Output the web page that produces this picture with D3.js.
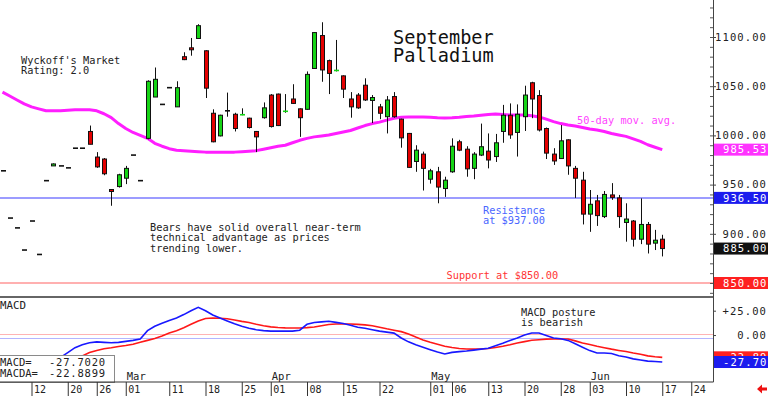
<!DOCTYPE html>
<html>
<head>
<meta charset="utf-8">
<script src="https://cdn.jsdelivr.net/npm/d3@7"></script>
<style>
  body { margin: 0; background: #fff; }
  svg { display: block; font-family: "DejaVu Sans Mono", monospace; }
</style>
</head>
<body>
<svg id="chart" width="768" height="396"></svg>
<script>
// trading day 0 = Feb 12, the first bar on the chart is day -4
const firstDay = -4;

const opens = [
  964, 916, 906, 883.5, 913, 879, 954, 969, 969, 967,
  987, 987, 1004, 978, 976, 945, 948, 956.5, 980, 954,
  997, 1039, 1031.5, 1048.5, 1029, 1080, 1089, 1098.5, 1086, 1022.5,
  999.5, 1025, 1021.5, 1020.5, 1017.5, 1004, 1018, 1041, 1042, 1023.5,
  1037, 1027, 1026.5, 1068, 1101.5, 1076, 1065, 1060.5, 1037, 1041,
  1051, 1035.5, 1029, 1019, 1039.5, 1016.5, 1002, 973.5, 981, 955.5,
  963, 946, 963, 993.5, 986, 966.5, 980, 984, 978.5, 1004,
  1020.5, 1003, 1019, 1053.5, 1040.5, 1007, 981, 976.5, 995.5, 966.5,
  954.5, 920, 933.5, 917.5, 939.5, 936.5, 911.5, 913, 894.5, 909.5,
  890.5, 894.5
];
const highs = [
  964, 916, 906, 883.5, 913, 879, 954, 971.5, 969, 967,
  987, 987, 1010, 983, 977, 945.5, 961, 969, 980, 954,
  1056, 1069, 1031.5, 1048.5, 1055, 1084.5, 1099, 1113, 1086.5, 1026.5,
  1021, 1043.5, 1023, 1027.5, 1018, 1004.5, 1033.5, 1042, 1042.5, 1042,
  1052, 1027.5, 1065, 1105, 1115, 1077, 1097, 1061, 1044, 1043,
  1058, 1041, 1032, 1040, 1044, 1017, 1002.5, 990, 983.5, 966,
  968, 958, 997, 995.5, 989, 983, 1012, 1002, 1001.5, 1031,
  1032.5, 1031.5, 1050.5, 1054.5, 1046, 1008, 987, 1010.5, 996, 969,
  963, 944.5, 939.5, 943.5, 951.5, 939.5, 931, 914, 936, 912,
  904, 899
];
const lows = [
  964, 916, 906, 883.5, 913, 879, 954, 969, 969, 967,
  987, 987, 991, 967, 959.5, 928.5, 947, 950.5, 980, 954,
  996, 1039, 1031.5, 1048.5, 1029, 1076.5, 1081, 1098.5, 1038, 993,
  999, 1019, 1004, 1020.5, 1007, 983, 1017, 1008, 1009.5, 1023,
  1032, 998.5, 1026, 1067.5, 1054.5, 1042, 1065, 1038, 1018, 1027,
  1035, 1012.5, 1016.5, 1002, 1018, 987.5, 967, 963, 944, 951,
  931, 937.5, 962, 984, 958, 955.5, 979, 966.5, 973, 992.5,
  996.5, 978.5, 1004.5, 1017.5, 1004, 976, 970, 976, 960, 936.5,
  909.5, 902, 908, 916, 934.5, 906, 892, 887, 889.5, 880,
  883.5, 877
];
const closes = [
  964, 916, 906, 883.5, 913, 879, 954, 971, 969, 967,
  987, 987, 991, 968, 961, 943, 960, 966.5, 980, 954,
  1055, 1057, 1031.5, 1048.5, 1048.5, 1077, 1087, 1111.5, 1048, 993.5,
  1020.5, 1025, 1007, 1021, 1008, 998.5, 1028, 1009, 1010, 1024.5,
  1032.5, 1018, 1062, 1104.5, 1066.5, 1063, 1066, 1047, 1029, 1028,
  1036, 1038.5, 1022.5, 1036, 1019, 997.5, 967.5, 985, 966.5, 964,
  947.5, 954.5, 989, 985, 966, 981, 988.5, 975, 992.5, 1020.5,
  1000.5, 1021.5, 1041, 1037, 1005.5, 982, 974, 994.5, 969, 956.5,
  920, 930, 918.5, 940, 937, 917.5, 915, 894.5, 909.5, 889.5,
  893.5, 885
];

// 50-day moving average, same days as the bars
const movAvg = [
  1044, 1040, 1036, 1032, 1029, 1027, 1025, 1025, 1025, 1025.5,
  1026, 1026, 1026, 1025, 1022, 1018, 1012, 1007, 1003, 1000,
  997, 992, 989, 986.5, 985, 984.5, 984, 983.5, 983, 983,
  983, 983, 983, 983.5, 984, 984.5, 986, 987.5, 989, 990,
  992.5, 995, 997, 998.5, 999.5, 1000.5, 1002, 1003.5, 1005, 1007.5,
  1010, 1012, 1013.5, 1015.5, 1017.5, 1018.5, 1018.7, 1018.7, 1018.7, 1018.5,
  1018, 1017.7, 1018, 1018.5, 1019.3, 1019.7, 1020.5, 1021.2, 1021.7, 1021.3,
  1020.8, 1020.7, 1020.7, 1020, 1018.8, 1016.5, 1014, 1012, 1010.5, 1009.5,
  1008, 1006.5, 1005.5, 1004, 1002, 1000.5, 999, 996.5, 994, 990.5,
  988, 985.5
];

const macdStart = 4;
const macdLine = [
  -23, -18, -13, -10, -8, -7, -7.5, -8, -7.5, -6.5,
  -5.5, -4, 4.5, 9, 12, 15, 17.5, 21, 25, 28.5,
  25, 20.6, 17.5, 14.5, 11.5, 9, 7, 5.5, 4.5, 4,
  4, 4, 4, 5, 11, 12.8, 13.5, 14.2, 13, 11.8,
  10, 8, 7, 5.5, 4, 3, 2, -3, -7, -10,
  -12.5, -15, -17.5, -19.5, -17.8, -17, -16.4, -15.5, -14.5, -13.5,
  -11, -8.5, -5.5, -3, 0, 2.1, 2.1, -0.5, -3, -3.8,
  -5.5, -9, -12.5, -16, -18.5, -18.5, -19, -21.2, -22.5, -24.5,
  -25.7, -26.8, -27.2, -27.7
];
const signalStart = 6;
const signalLine = [
  -24, -21.5, -18, -15.8, -14, -13, -11.8, -10.8, -9.5, -7.5,
  -5.5, -3.5, -1, 2, 4.5, 7.5, 11, 14.5, 17, 17.5,
  17.3, 16.8, 15.5, 14, 12.8, 11, 9.5, 8.4, 7.8, 7.4,
  7.2, 7.2, 7.6, 8.2, 9.5, 10.8, 11.3, 11.3, 11.3, 11,
  10.4, 9.5, 8, 6.4, 5, 3.5, 1, -2.1, -5, -7.5,
  -9.5, -11.5, -12.8, -13.8, -14.4, -14.5, -14.4, -13.8, -12.8, -11.5,
  -10, -8.2, -6.8, -5.4, -4.8, -4.2, -4.1, -4.1, -4.1, -6,
  -8.2, -9.8, -11.5, -13, -14.5, -15.8, -17, -18.5, -19.8, -21.4,
  -22.3, -22.9
];

const dayTicks = [0, 5, 9, 13, 19, 24, 29, 33, 38, 43, 48, 55, 58, 63, 68, 73, 77, 82, 87, 91];
const dayLabels = ['12', '20', '26', '01', '11', '18', '25', '01', '08', '15', '22',
  '01', '06', '13', '20', '28', '03', '10', '17', '24'];
const monthTicks = [13, 33, 55, 77];
const monthLabels = ['Mar', 'Apr', 'May', 'Jun'];
const priceTicks = [900, 950, 1000, 1050, 1100];
const macdTicks = [0, 25];

const resistance = 936.5;
const support = 850;
const lastPrice = 885;
const lastAvg = 985.53;
const lastMacd = -27.702;
const lastSignal = -22.8899;

// ---- layout ----
const axisX = 713.5;
const macdTop = 297;
const macdBottom = 382;
const green = '#16d416';
const red = '#e40000';
const magenta = '#ff1eff';

const svg = d3.select('#chart');

const x = d3.scaleLinear().domain([0, 91]).range([31.5, 691.25]);
const y = d3.scaleLinear().domain([850, 1100]).range([283, 37]);
const ym = d3.scaleLinear().domain([-27.7, 25]).range([362, 310.7]);

const bars = opens.map((o, i) => ({
  day: firstDay + i, open: o, high: highs[i], low: lows[i], close: closes[i]
}));

// level lines
svg.append('line')
  .attr('x1', 0).attr('x2', axisX)
  .attr('y1', y(resistance)).attr('y2', y(resistance))
  .attr('stroke', '#9c9cff').attr('stroke-width', 2);
svg.append('line')
  .attr('x1', 0).attr('x2', axisX)
  .attr('y1', y(support)).attr('y2', y(support))
  .attr('stroke', '#ffb0b0').attr('stroke-width', 2);

// moving average
svg.append('path')
  .datum(movAvg)
  .attr('fill', 'none')
  .attr('stroke', magenta)
  .attr('stroke-width', 3)
  .attr('stroke-linejoin', 'round')
  .attr('d', d3.line().x((d, i) => x(firstDay + i)).y(d => y(d)));

// candles
const candle = svg.append('g').selectAll('g').data(bars).join('g')
  .attr('transform', d => `translate(${Math.round(x(d.day)) + 0.5},0)`);

candle.filter(d => d.high > d.low).append('line')
  .attr('y1', d => y(d.high)).attr('y2', d => y(d.low))
  .attr('stroke', '#111');

// flat days and doji as short dashes
candle.filter(d => Math.abs(d.close - d.open) <= 1).append('line')
  .attr('x1', -2.5).attr('x2', 2.5)
  .attr('y1', d => y(d.close)).attr('y2', d => y(d.close))
  .attr('stroke-width', 1.6)
  .attr('stroke', d => {
    if (d.high === d.low || d.close === d.open) return '#111';
    return d.close > d.open ? green : red;
  });

candle.filter(d => Math.abs(d.close - d.open) > 1).append('rect')
  .attr('x', -2).attr('width', 4)
  .attr('y', d => y(Math.max(d.open, d.close)))
  .attr('height', d => Math.max(1.5, Math.abs(y(d.open) - y(d.close))))
  .attr('fill', d => d.close > d.open ? green : red)
  .attr('stroke', '#111');

// annotations
function note(lines, px, py, step, size, color, spacing) {
  const t = svg.append('text')
    .attr('x', px).attr('y', py)
    .attr('font-size', size)
    .attr('fill', color)
    .attr('letter-spacing', spacing || 0);
  lines.forEach((s, i) => {
    t.append('tspan').attr('x', px).attr('y', py + i * step).text(s);
  });
}

note(["Wyckoff's Market", 'Rating: 2.0'], 21, 63.5, 10.3, 10.3, '#222');
note(['September', 'Palladium'], 393, 43.5, 18.5, 18.6, '#111');
note(['Bears have solid overall near-term', 'technical advantage as prices', 'trending lower.'],
  150, 231, 10.4, 10.3, '#222');
note(['Resistance', 'at $937.00'], 483, 214, 10.3, 10.3, '#4a66ff');
note(['Support at $850.00'], 446.5, 278.5, 10, 10.3, '#ff3535');
note(['50-day mov. avg.'], 577, 123.5, 10, 10.3, '#ff45ff');
note(['MACD posture', 'is bearish'], 521, 315.5, 10.2, 10.3, '#222');
note(['MACD'], 0, 309, 10, 10.8, '#222');

// macd panel
svg.append('line')
  .attr('x1', 0).attr('x2', axisX)
  .attr('y1', macdTop).attr('y2', macdTop)
  .attr('stroke', '#333').attr('stroke-width', 1.5);
svg.append('line')
  .attr('x1', 0).attr('x2', axisX)
  .attr('y1', Math.round(ym(0)) - 0.5).attr('y2', Math.round(ym(0)) - 0.5)
  .attr('stroke', '#ffb4b4');
svg.append('line')
  .attr('x1', 0).attr('x2', axisX)
  .attr('y1', Math.round(ym(-3.5)) + 0.5).attr('y2', Math.round(ym(-3.5)) + 0.5)
  .attr('stroke', '#b4b4ff');

svg.append('path')
  .datum(signalLine)
  .attr('fill', 'none')
  .attr('stroke', '#ff1818')
  .attr('stroke-width', 1.6)
  .attr('d', d3.line().x((d, i) => x(signalStart + i)).y(d => ym(d)));
svg.append('path')
  .datum(macdLine)
  .attr('fill', 'none')
  .attr('stroke', '#1818ff')
  .attr('stroke-width', 1.6)
  .attr('d', d3.line().x((d, i) => x(macdStart + i)).y(d => ym(d)));

// value box
svg.append('rect')
  .attr('x', -1).attr('y', 355.5).attr('width', 115.5).attr('height', 27)
  .attr('fill', '#fff').attr('stroke', '#8a8a8a');
note(['MACD=', 'MACDA='], 0, 366, 11.3, 10.5, '#222');
note([lastMacd.toFixed(4), lastSignal.toFixed(4)], 49, 366, 11.3, 10.5, '#222', 0.8);

// bottom strip
svg.append('line')
  .attr('x1', 0).attr('x2', axisX)
  .attr('y1', macdBottom).attr('y2', macdBottom)
  .attr('stroke', '#333');

monthTicks.forEach((d, i) => {
  svg.append('text')
    .attr('x', x(d) + 1).attr('y', 380)
    .attr('font-size', 10.5).attr('fill', '#222')
    .text(monthLabels[i]);
});

const dayAxis = d3.axisBottom(x)
  .tickValues(dayTicks)
  .tickFormat((d, i) => dayLabels[i])
  .tickSize(14);
const da = svg.append('g')
  .attr('transform', `translate(0,${macdBottom})`)
  .call(dayAxis)
  .attr('font-family', '"DejaVu Sans Mono", monospace')
  .attr('font-size', 10);
da.select('.domain').remove();
da.selectAll('.tick line').attr('stroke', '#333');
da.selectAll('.tick text')
  .attr('x', 2).attr('y', 11).attr('dy', null)
  .attr('text-anchor', 'start').attr('fill', '#222');

// right axis
svg.append('line')
  .attr('x1', axisX).attr('x2', axisX)
  .attr('y1', 0).attr('y2', macdBottom)
  .attr('stroke', '#444');

const minorAxis = d3.axisRight(y)
  .tickValues(d3.range(840, 1140, 10))
  .tickFormat('')
  .tickSize(-3);
svg.append('g')
  .attr('transform', `translate(${axisX - 0.5},0)`)
  .call(minorAxis)
  .call(g => g.select('.domain').remove())
  .selectAll('line').attr('stroke', '#555');

const priceAxis = d3.axisRight(y)
  .tickValues(priceTicks)
  .tickFormat(d3.format('.2f'))
  .tickSize(3);
const pa = svg.append('g')
  .attr('transform', `translate(${axisX - 0.5},0)`)
  .call(priceAxis)
  .attr('font-family', '"DejaVu Sans Mono", monospace')
  .attr('font-size', 10.5);
pa.select('.domain').remove();
pa.selectAll('.tick line').attr('stroke', '#444');
pa.selectAll('.tick text')
  .attr('x', 54).attr('text-anchor', 'end')
  .attr('letter-spacing', 1.1).attr('fill', '#222');

const macdAxis = d3.axisRight(ym)
  .tickValues(macdTicks)
  .tickFormat(d => (d > 0 ? '+' : '') + d.toFixed(2))
  .tickSize(3);
const ma = svg.append('g')
  .attr('transform', `translate(${axisX - 0.5},0)`)
  .call(macdAxis)
  .attr('font-family', '"DejaVu Sans Mono", monospace')
  .attr('font-size', 10.5);
ma.select('.domain').remove();
ma.selectAll('.tick line').attr('stroke', '#444');
ma.selectAll('.tick text')
  .attr('x', 54).attr('text-anchor', 'end')
  .attr('letter-spacing', 1.1).attr('fill', '#222');

// value flags on the right axis
function flag(cy, label, bg) {
  svg.append('rect')
    .attr('x', axisX + 0.5).attr('y', cy - 6)
    .attr('width', 768 - axisX).attr('height', 12)
    .attr('fill', bg);
  svg.append('text')
    .attr('x', 767.5).attr('y', cy).attr('dy', '0.36em')
    .attr('text-anchor', 'end')
    .attr('font-size', 10.5).attr('letter-spacing', 1.1)
    .attr('fill', '#fff')
    .text(label);
}

flag(y(lastAvg), lastAvg.toFixed(2), '#ff33ff');
flag(y(resistance), resistance.toFixed(2), '#1c1cee');
flag(y(lastPrice), lastPrice.toFixed(2), '#111');
flag(y(support), support.toFixed(2), '#ff2020');
flag(ym(lastSignal), lastSignal.toFixed(2), '#ff2020');
flag(ym(lastMacd), lastMacd.toFixed(2), '#1c1cee');

// little red arrow bottom right
svg.append('path')
  .attr('d', 'M757,389 L762,384.5 L762,387.5 L767,387.5 L767,390.5 L762,390.5 L762,393.5 Z')
  .attr('fill', '#ee1111');
</script>
</body>
</html>
